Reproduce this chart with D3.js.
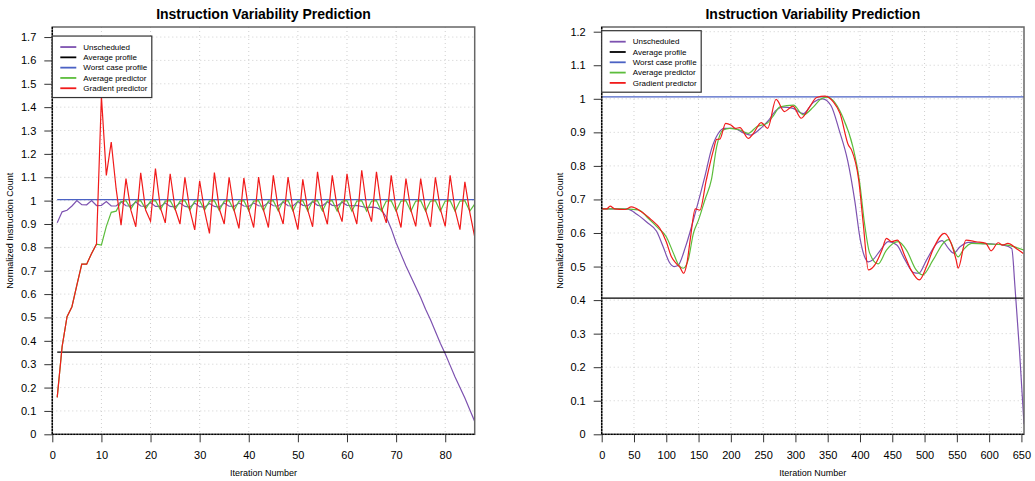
<!DOCTYPE html>
<html>
<head>
<meta charset="utf-8">
<script src="https://cdn.jsdelivr.net/npm/d3@7"></script>
<style>
body { margin: 0; background: #fff; }
text { font-family: "Liberation Sans", Arial, sans-serif; }
</style>
</head>
<body>
<script>
// ---- left panel data (iterations 1..86)
var leftIter = d3.range(1, 87);
var leftUnscheduled = [0.905,0.952,0.959,0.977,1.0,0.983,0.982,1.0,0.979,0.98,
  0.996,0.977,0.977,0.995,0.978,0.976,0.994,0.977,0.975,0.992,
  0.975,0.975,0.99,0.975,0.973,0.99,0.975,0.972,0.99,0.974,
  0.972,0.988,0.975,0.972,0.99,0.976,0.975,0.99,0.977,0.975,
  0.99,0.978,0.976,0.992,0.978,0.977,0.994,0.978,0.977,0.996,
  0.98,0.978,0.996,0.98,0.978,0.995,0.98,0.978,0.993,0.98,
  0.978,0.98,0.975,0.97,0.972,0.97,0.96,0.93,0.88,0.82,
  0.77,0.72,0.675,0.63,0.585,0.535,0.49,0.44,0.39,0.345,
  0.295,0.245,0.2,0.155,0.105,0.055];
var leftAvgPredictor = [0.158,0.375,0.503,0.546,0.638,0.728,0.728,0.774,0.814,0.81,
  0.89,0.95,0.955,0.995,1.0,0.965,0.998,1.0,0.965,0.998,
  1.0,0.962,0.998,1.0,0.962,0.998,1.0,0.96,0.998,1.0,
  0.96,0.998,1.0,0.958,0.998,1.0,0.958,0.998,1.0,0.957,
  0.998,1.0,0.957,0.998,1.0,0.956,0.998,1.0,0.956,0.998,
  1.0,0.956,0.998,1.0,0.956,0.998,1.0,0.955,0.998,1.0,
  0.955,0.998,1.0,0.955,0.998,1.0,0.955,0.998,1.0,0.955,
  0.998,1.0,0.955,0.998,1.0,0.955,0.998,1.0,0.955,0.998,
  1.0,0.955,0.998,1.0,0.955,0.985];
var leftGradPredictor = [0.158,0.375,0.503,0.546,0.638,0.728,0.728,0.774,0.814,1.446,
  1.108,1.251,1.05,0.895,1.094,0.959,0.888,1.119,0.96,0.912,
  1.137,0.97,0.905,1.115,0.965,0.9,1.1,0.96,0.875,1.085,
  0.955,0.86,1.12,0.965,0.9,1.1,0.96,0.881,1.097,0.96,
  0.885,1.101,0.96,0.885,1.108,0.965,0.9,1.101,0.96,0.876,
  1.091,0.96,0.888,1.123,0.97,0.899,1.108,0.97,0.91,1.115,
  0.97,0.9,1.13,0.975,0.91,1.123,0.97,0.905,1.108,0.96,
  0.885,1.094,0.96,0.89,1.094,0.96,0.888,1.10,0.965,0.89,
  1.108,0.96,0.876,1.08,0.95,0.845];
var leftAvgProfile = 0.352;
var leftWorstCase = 1.004;

// ---- right panel data (key points)
var rightUnschedX = [0,20,40,55,70,85,95,105,112,118,130,145,160,170,180,190,205,220,230,245,258,270,280,295,312,328,342,355,368,381,392,400,407,413,420,432,444,457,470,483,491,503,519,527,537,545,555,568,586,607,622,635,640,647,654];
var rightUnschedY = [0.672,0.672,0.671,0.655,0.632,0.605,0.56,0.512,0.5,0.503,0.56,0.66,0.77,0.85,0.895,0.912,0.912,0.898,0.892,0.91,0.935,0.965,0.975,0.972,0.956,0.99,1.0,0.98,0.905,0.815,0.695,0.585,0.53,0.514,0.52,0.55,0.574,0.564,0.519,0.482,0.48,0.519,0.569,0.577,0.554,0.54,0.559,0.572,0.569,0.567,0.564,0.554,0.44,0.25,0.03];
var rightAvgPredX = [0,30,57,72,88,100,111,119,126,134,142,150,160,170,178,188,198,214,227,240,256,266,276,297,312,328,340,349,358,373,389,399,407,415,428,441,459,472,487,497,513,531,537,552,560,573,601,627,654];
var rightAvgPredY = [0.672,0.672,0.669,0.644,0.614,0.589,0.54,0.505,0.495,0.52,0.599,0.639,0.7,0.76,0.857,0.907,0.912,0.907,0.897,0.917,0.927,0.95,0.976,0.981,0.952,0.976,1.0,1.005,0.996,0.947,0.857,0.758,0.629,0.54,0.508,0.549,0.574,0.549,0.49,0.475,0.519,0.574,0.58,0.529,0.55,0.569,0.567,0.564,0.549];
var rightGradX = [0,8,13,20,36,46,61,77,90,100,108,116,121,127,132,137,145,152,162,173,178,183,192,200,207,214,227,235,247,257,270,283,296,309,322,333,346,359,369,382,387,398,405,413,423,434,441,449,458,469,479,492,503,513,531,539,549,552,564,580,595,603,614,621,629,642,653];
var rightGradY = [0.672,0.672,0.68,0.672,0.67,0.678,0.664,0.639,0.614,0.574,0.529,0.508,0.498,0.48,0.51,0.579,0.672,0.668,0.758,0.847,0.879,0.88,0.927,0.922,0.912,0.914,0.882,0.897,0.929,0.912,0.998,0.962,0.978,0.942,0.976,1.004,1.008,0.99,0.957,0.862,0.847,0.758,0.629,0.49,0.505,0.549,0.584,0.574,0.579,0.534,0.49,0.46,0.5,0.55,0.599,0.579,0.519,0.495,0.579,0.574,0.569,0.547,0.571,0.564,0.569,0.554,0.539];
var rightAvgProfile = 0.406;
var rightWorstCase = 1.006;

// ---- shared labels
var legendNames = ["Unscheduled", "Average profile", "Worst case profile", "Average predictor", "Gradient predictor"];
var legendColors = ["#7d52b0", "#000000", "#4b62c4", "#5cbd3c", "#f11b1b"];
var titleText = "Instruction Variability Prediction";
var xLabel = "Iteration Number", yLabel = "Normalized Instruction Count";

var svg = d3.select("body").append("svg")
  .attr("width", 1035).attr("height", 481);

function fmt(d) { return String(+d.toFixed(1)); }

function drawPanel(p) {
  var x = d3.scaleLinear().domain(p.xDomain).range([p.left, p.right]);
  var y = d3.scaleLinear().domain(p.yDomain).range([434.3, 27]);
  var g = svg.append("g");

  // grid
  g.selectAll(".vg").data(p.xTicks).enter().append("line")
    .attr("x1", d => x(d)).attr("x2", d => x(d)).attr("y1", 27).attr("y2", 434.3)
    .attr("stroke", "#cfcfcf").attr("stroke-dasharray", "1,3");
  g.selectAll(".hg").data(p.yTicks).enter().append("line")
    .attr("x1", p.left).attr("x2", p.right).attr("y1", d => y(d)).attr("y2", d => y(d))
    .attr("stroke", "#cfcfcf").attr("stroke-dasharray", "1,3");

  // clip
  var cid = "clip" + p.id;
  svg.append("clipPath").attr("id", cid).append("rect")
    .attr("x", p.left).attr("y", 27).attr("width", p.right - p.left).attr("height", 434.3 - 27);
  var plot = g.append("g").attr("clip-path", "url(#" + cid + ")");

  var line = d3.line().x(d => x(d[0])).y(d => y(d[1])).curve(p.curve);
  var flat = d3.line().x(d => x(d[0])).y(d => y(d[1]));
  var series = [
    d3.zip(p.unschedX, p.unschedY),
    [[p.xStart, p.avgProfile], [p.xDomain[1], p.avgProfile]],
    [[p.xStart, p.worstCase], [p.xDomain[1], p.worstCase]],
    d3.zip(p.avgX, p.avgY),
    d3.zip(p.gradX, p.gradY)
  ];
  series.forEach(function(s, i) {
    plot.append("path").datum(s)
      .attr("d", (i == 1 || i == 2) ? flat : line)
      .attr("fill", "none").attr("stroke", legendColors[i]).attr("stroke-width", 1.2);
  });

  // frame
  g.append("rect").attr("x", p.left).attr("y", 27)
    .attr("width", p.right - p.left).attr("height", 434.3 - 27)
    .attr("fill", "none").attr("stroke", "#666").attr("stroke-width", 1.5);
  g.append("line").attr("x1", p.left).attr("x2", p.left).attr("y1", 27).attr("y2", 434.3)
    .attr("stroke", "#000").attr("stroke-width", 1.3).attr("stroke-dasharray", "2,1");
  g.append("line").attr("x1", p.left).attr("x2", p.right).attr("y1", 434.3).attr("y2", 434.3)
    .attr("stroke", "#000").attr("stroke-width", 1.3).attr("stroke-dasharray", "2,1");

  // axes
  var ax = g.append("g").attr("transform", "translate(0,434.3)")
    .call(d3.axisBottom(x).tickValues(p.xTicks).tickFormat(d => d).tickSize(8).tickPadding(9));
  var ay = g.append("g").attr("transform", "translate(" + p.left + ",0)")
    .call(d3.axisLeft(y).tickValues(p.yTicks).tickFormat(fmt).tickSize(8).tickPadding(8));
  [ax, ay].forEach(function(a) {
    a.select(".domain").remove();
    a.selectAll(".tick line").attr("stroke", "#333");
    a.selectAll("text").attr("font-size", 11).attr("fill", "#000")
      .attr("font-family", "Liberation Sans, Arial, sans-serif");
  });

  // titles
  g.append("text").attr("x", (p.left + p.right) / 2).attr("y", 18.5)
    .attr("text-anchor", "middle").attr("font-size", 14).attr("font-weight", "bold").text(titleText);
  g.append("text").attr("x", (p.left + p.right) / 2).attr("y", 475.5)
    .attr("text-anchor", "middle").attr("font-size", 9).text(xLabel);
  g.append("text").attr("transform", "translate(" + (p.left - 39) + "," + ((27 + 434.3) / 2) + ") rotate(-90)")
    .attr("text-anchor", "middle").attr("font-size", 9).text(yLabel);

  // legend
  var ly = y(p.yTicks[p.yTicks.length - 1]) - 1;
  var lg = g.append("g").attr("transform", "translate(" + p.left + "," + ly + ")");
  lg.append("rect").attr("width", 99.5).attr("height", 61.5)
    .attr("fill", "#fff").attr("stroke", "#333").attr("stroke-width", 1.2);
  legendNames.forEach(function(n, i) {
    var cy = 11 + i * 10.3;
    lg.append("line").attr("x1", 8).attr("x2", 24).attr("y1", cy).attr("y2", cy)
      .attr("stroke", legendColors[i]).attr("stroke-width", 1.8);
    lg.append("text").attr("x", 31).attr("y", cy).attr("dy", "0.35em")
      .attr("font-size", 8).text(n);
  });
}

drawPanel({
  id: "L", left: 52.3, right: 474.7, xDomain: [0, 86], yDomain: [0, 1.743],
  xTicks: d3.range(0, 9).map(i => i * 10), yTicks: d3.range(0, 18).map(i => i / 10),
  xStart: 1, curve: d3.curveLinear,
  unschedX: leftIter, unschedY: leftUnscheduled,
  avgX: leftIter, avgY: leftAvgPredictor,
  gradX: leftIter, gradY: leftGradPredictor,
  avgProfile: leftAvgProfile, worstCase: leftWorstCase
});
drawPanel({
  id: "R", left: 601.7, right: 1024, xDomain: [0, 654], yDomain: [0, 1.214],
  xTicks: d3.range(0, 14).map(i => i * 50), yTicks: d3.range(0, 13).map(i => i / 10),
  xStart: 0, curve: d3.curveMonotoneX,
  unschedX: rightUnschedX, unschedY: rightUnschedY,
  avgX: rightAvgPredX, avgY: rightAvgPredY,
  gradX: rightGradX, gradY: rightGradY,
  avgProfile: rightAvgProfile, worstCase: rightWorstCase
});
</script>
</body>
</html>
